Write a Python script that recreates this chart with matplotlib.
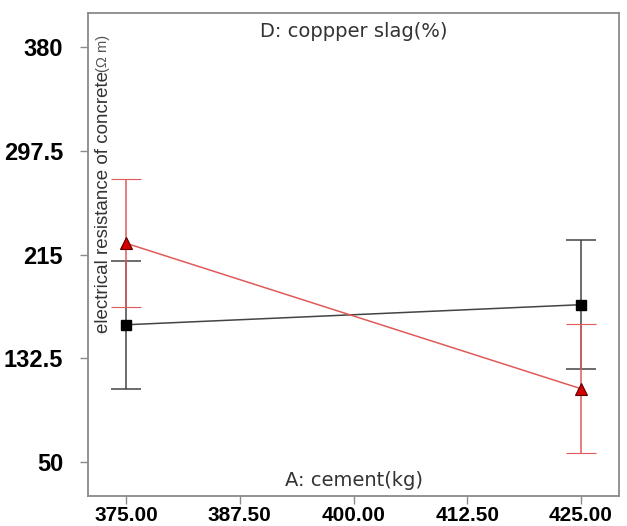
import matplotlib
matplotlib.use("Agg")
import matplotlib.pyplot as plt

# Interaction plot: cement level vs copper slag level
cement_levels = [375.0, 425.0]
low_slag = [159.0, 175.0]      # black squares
high_slag = [224.0, 108.0]     # red triangles
low_slag_err = [51.0, 51.5]
high_slag_err = [51.0, 51.5]

y_ticks = [50, 132.5, 215, 297.5, 380]
y_tick_labels = ["50", "132.5", "215", "297.5", "380"]
x_ticks = [375.0, 387.5, 400.0, 412.5, 425.0]
x_tick_labels = ["375.00", "387.50", "400.00", "412.50", "425.00"]

plt.rcParams["font.family"] = ["Liberation Sans", "DejaVu Sans"]

fig = plt.figure(figsize=(6.27, 5.26), dpi=100)
ax = fig.add_axes([0.1404, 0.057, 0.8468, 0.9183])

spine_col = "#8a8a8a"
red_line = "#e05a5a"

ax.errorbar(cement_levels, low_slag, yerr=low_slag_err, color="#444444", lw=1.1,
            capsize=11, capthick=1.1, marker="s", ms=7, mfc="black", mec="black",
            zorder=3)
ax.errorbar(cement_levels, high_slag, yerr=high_slag_err, color=red_line, lw=1.1,
            capsize=11, capthick=1.1, marker="^", ms=8.5, mfc="#d40000", mec="#5a0000",
            mew=0.8, zorder=4)

ax.set_xlim(375 - 12.5 / 3, 425 + 12.5 / 3)
ax.set_ylim(50 - 82.5 / 3, 380 + 82.5 / 3)

ax.set_yticks(y_ticks)
ax.set_yticklabels(y_tick_labels, fontsize=17, fontweight="bold")
ax.set_xticks(x_ticks)
ax.set_xticklabels(x_tick_labels, fontsize=15, fontweight="bold")
ax.tick_params(axis="y", length=6, width=1, color=spine_col, pad=12)
ax.tick_params(axis="x", length=6, width=1, color=spine_col, pad=1)

for s in ax.spines.values():
    s.set_color(spine_col)
    s.set_linewidth(1.3)

# factor names drawn inside the frame
ax.text(0.5, 0.982, "D: coppper slag(%)", transform=ax.transAxes, ha="center",
        va="top", fontsize=14, color="#333333", family="DejaVu Sans")
ax.text(0.5, 0.012, "A: cement(kg)", transform=ax.transAxes, ha="center",
        va="bottom", fontsize=14, color="#333333", family="DejaVu Sans")
ax.text(0.029, 0.338, "electrical resistance of concrete", transform=ax.transAxes,
        rotation=90, ha="center", va="bottom", fontsize=13.5, color="#333333")
ax.text(0.029, 0.878, "(\u03a9 m)", transform=ax.transAxes,
        rotation=90, ha="center", va="bottom", fontsize=10.5, color="#555555")

fig.savefig("out.png", dpi=100)
